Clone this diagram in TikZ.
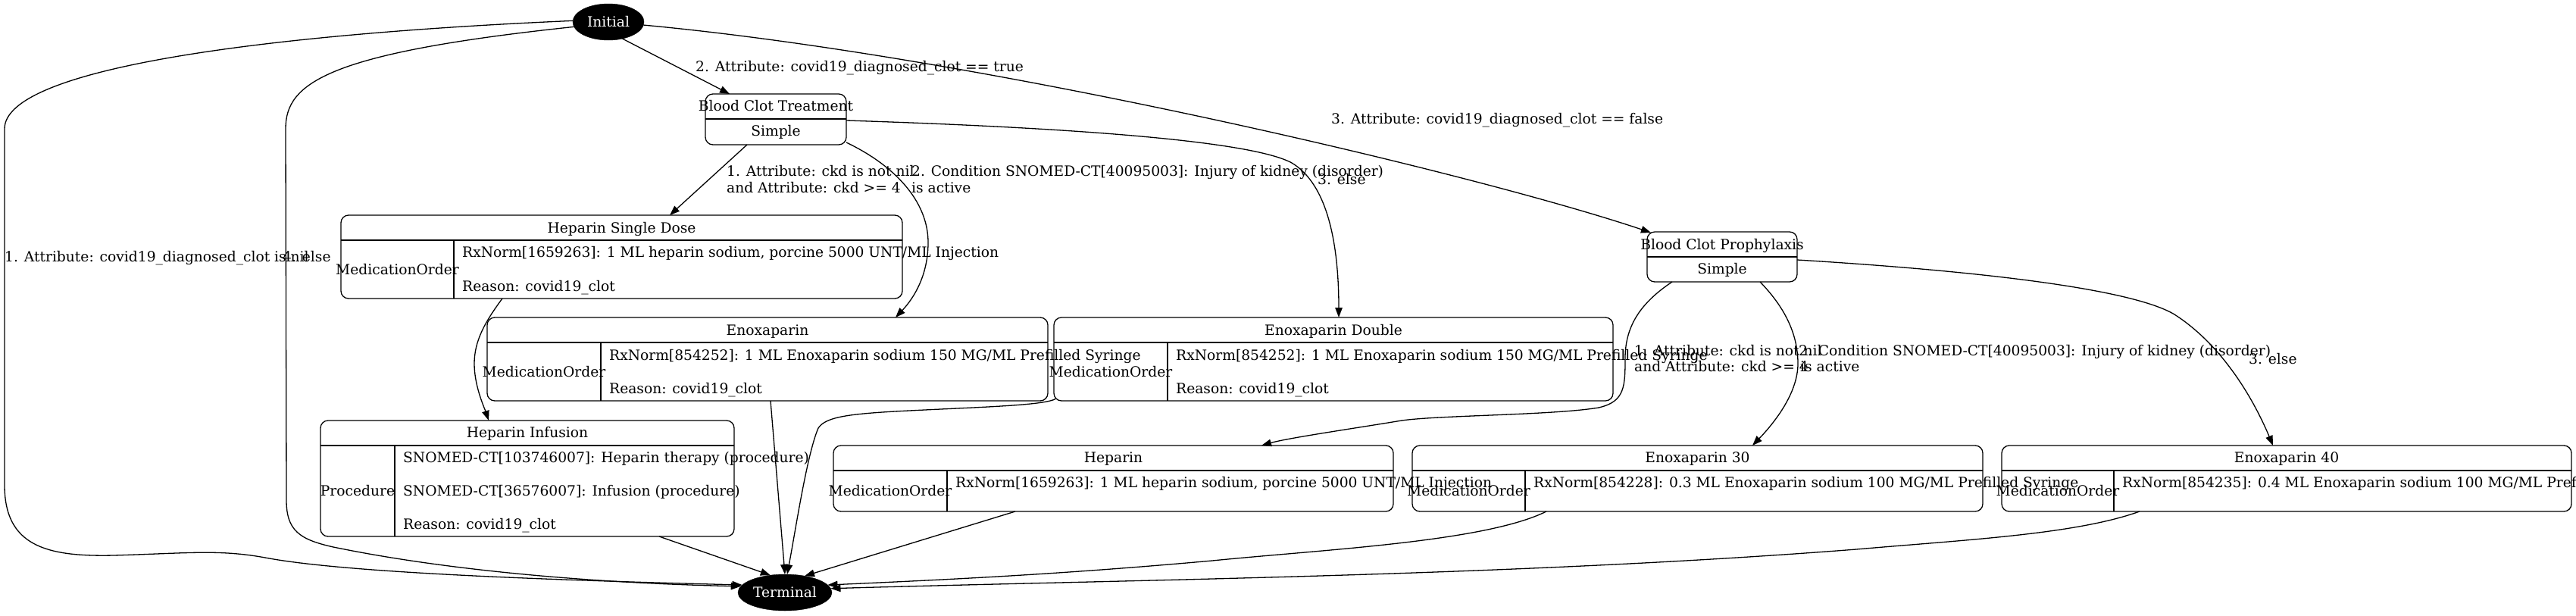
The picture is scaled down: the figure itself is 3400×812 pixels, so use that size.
\documentclass[tikz,border=0pt]{standalone}
\usepackage{fontspec}
\setmainfont{DejaVu Serif}
\usetikzlibrary{arrows.meta,shapes.geometric,calc}
\begin{document}
\begin{tikzpicture}[x=1pt,y=-1pt,
  every node/.style={font=\fontsize{18.67}{22}\selectfont},
  box/.style={draw, line width=1.3pt, rounded corners=10pt, inner sep=0pt, outer sep=0pt},
  div/.style={line width=1.3pt},
  tx/.style={inner sep=0pt, anchor=base},
  txl/.style={inner sep=0pt, anchor=base west},
  term/.style={ellipse, fill=black, draw=black, text=white, inner sep=0pt, outer sep=0pt},
  edge/.style={line width=1.3pt, -{Triangle[length=13pt,width=9.5pt]}}
]
\useasboundingbox (0,0) rectangle (3400,812);

% start / end states
\node[term, minimum width=94pt, minimum height=48pt] (init) at (803,29) {Initial};
\node[term, minimum width=124pt, minimum height=48pt] (term) at (1036,782) {Terminal};

% Blood Clot Treatment
\node[box, minimum width=186pt, minimum height=67pt] (bct) at (1024,157.5) {};
\draw[div] (931,157) -- (1117,157);
\node[tx] (bctT) at (1024,146) {Blood Clot Treatment};
\node[tx] (bctS) at (1024,179) {Simple};

% Blood Clot Prophylaxis
\node[box, minimum width=198pt, minimum height=66pt] (bcp) at (2273,339) {};
\draw[div] (2174,339) -- (2372,339);
\node[tx] (bcpT) at (2273,329) {Blood Clot Prophylaxis};
\node[tx] (bcpS) at (2273,361) {Simple};

% Heparin Single Dose
\node[box, minimum width=741pt, minimum height=110pt] (hsd) at (820.5,339) {};
\draw[div] (450,317) -- (1191,317);
\draw[div] (599,317) -- (599,394);
\node[tx] (hsdT) at (820.5,307) {Heparin Single Dose};
\node[tx] (hsdM) at (524.5,362) {MedicationOrder};
\node[txl] (hsdR) at (610,339) {RxNorm[1659263]: 1 ML heparin sodium, porcine 5000 UNT/ML Injection};
\node[txl] (hsdC) at (610,384) {Reason: covid19\_clot};

% Enoxaparin
\node[box, minimum width=740pt, minimum height=110pt] (enox) at (1013,474) {};
\draw[div] (643,452) -- (1383,452);
\draw[div] (793,452) -- (793,529);
\node[tx] (enoxT) at (1013,442) {Enoxaparin};
\node[tx] (enoxM) at (718,497) {MedicationOrder};
\node[txl] (enoxR) at (804,475) {RxNorm[854252]: 1 ML Enoxaparin sodium 150 MG/ML Prefilled Syringe};
\node[txl] (enoxC) at (804,519) {Reason: covid19\_clot};

% Enoxaparin Double
\node[box, minimum width=738pt, minimum height=110pt] (enoxd) at (1760,474) {};
\draw[div] (1391,452) -- (2129,452);
\draw[div] (1541,452) -- (1541,529);
\node[tx] (enoxdT) at (1760,442) {Enoxaparin Double};
\node[tx] (enoxdM) at (1466,497) {MedicationOrder};
\node[txl] (enoxdR) at (1552,475) {RxNorm[854252]: 1 ML Enoxaparin sodium 150 MG/ML Prefilled Syringe};
\node[txl] (enoxdC) at (1552,519) {Reason: covid19\_clot};

% Heparin Infusion
\node[box, minimum width=546pt, minimum height=153pt] (hinf) at (696,631.5) {};
\draw[div] (423,588) -- (969,588);
\draw[div] (521,588) -- (521,708);
\node[tx] (hinfT) at (696,577) {Heparin Infusion};
\node[tx] (hinfP) at (472,654) {Procedure};
\node[txl] (hinfA) at (532,610) {SNOMED-CT[103746007]: Heparin therapy (procedure)};
\node[txl] (hinfB) at (532,654) {SNOMED-CT[36576007]: Infusion (procedure)};
\node[txl] (hinfC) at (532,698) {Reason: covid19\_clot};

% Heparin
\node[box, minimum width=739pt, minimum height=87pt] (hep) at (1469.5,631.5) {};
\draw[div] (1100,621) -- (1839,621);
\draw[div] (1250,621) -- (1250,675);
\node[tx] (hepT) at (1469.5,610) {Heparin};
\node[tx] (hepM) at (1175,654) {MedicationOrder};
\node[txl] (hepR) at (1261,643) {RxNorm[1659263]: 1 ML heparin sodium, porcine 5000 UNT/ML Injection};

% Enoxaparin 30
\node[box, minimum width=753pt, minimum height=87pt] (enox30) at (2240.5,631.5) {};
\draw[div] (1864,621) -- (2617,621);
\draw[div] (2013,621) -- (2013,675);
\node[tx] (e30T) at (2240.5,610) {Enoxaparin 30};
\node[tx] (e30M) at (1938.5,654) {MedicationOrder};
\node[txl] (e30R) at (2024,643) {RxNorm[854228]: 0.3 ML Enoxaparin sodium 100 MG/ML Prefilled Syringe};

% Enoxaparin 40
\node[box, minimum width=752pt, minimum height=87pt] (enox40) at (3018,631.5) {};
\draw[div] (2642,621) -- (3394,621);
\draw[div] (2790,621) -- (2790,675);
\node[tx] (e40T) at (3018,610) {Enoxaparin 40};
\node[tx] (e40M) at (2716,654) {MedicationOrder};
\node[txl] (e40R) at (2801,643) {RxNorm[854235]: 0.4 ML Enoxaparin sodium 100 MG/ML Prefilled Syringe};

% ---- edges from Initial
\draw[edge] (init.178) .. controls (350,45) and (6,90) .. (6,170) -- (6,640)
  .. controls (6,720) and (60,735) .. (150,733)
  .. controls (250,730) and (290,725) .. (350,736)
  .. controls (450,755) and (700,765) .. (term.170);
\draw[edge] (init.-172) .. controls (430,70) and (377,110) .. (377,170) -- (378,660)
  .. controls (378,700) and (395,712) .. (440,722)
  .. controls (600,755) and (800,770) .. (term.172);
\draw[edge] (init.-50) -- ($(bct.north west)+(32,0)$);
\draw[edge] (init.-5) .. controls (1300,75) and (1950,230) .. ($(bcp.north west)+(5,1)$);

\node[txl] (lab1) at (6,345) {1. Attribute: covid19\_diagnosed\_clot is nil};
\node[txl] (lab4) at (373,345) {4. else};
\node[txl] (lab2) at (918,94) {2. Attribute: covid19\_diagnosed\_clot == true};
\node[txl] (lab3) at (1757,163) {3. Attribute: covid19\_diagnosed\_clot == false};

% ---- edges from Blood Clot Treatment
\draw[edge] ($(bct.south west)+(55,0)$) -- ($(hsd.north west)+(434,0)$);
\draw[edge] ($(bct.south east)+(0,-3)$) .. controls (1180,218) and (1225,265) .. (1225,320)
  .. controls (1225,370) and (1200,400) .. ($(enox.north west)+(539,0)$);
\draw[edge] ($(bct.east)+(0,1.5)$) .. controls (1400,168) and (1650,185) .. (1705,215)
  .. controls (1755,245) and (1767,330) .. ($(enoxd.north)+(7,0)$);

\node[txl] (lab5a) at (959,232) {1. Attribute: ckd is not nil};
\node[txl] (lab5b) at (959,254) {and Attribute: ckd >= 4};
\node[txl] (lab6a) at (1203,232) {2. Condition SNOMED-CT[40095003]: Injury of kidney (disorder)};
\node[txl] (lab6b) at (1203,254) {is active};
\node[txl] (lab7) at (1739,243) {3. else};

% ---- edges from Blood Clot Prophylaxis
\draw[edge] ($(bcp.south west)+(33,0)$) .. controls (2165,400) and (2146,430) .. (2145,470)
  .. controls (2145,510) and (2145,530) .. (2110,538)
  .. controls (2050,548) and (1900,548) .. (1850,555)
  .. controls (1790,565) and (1700,578) .. ($(hep.north west)+(565,0)$);
\draw[edge] ($(bcp.south west)+(149,0)$) .. controls (2355,405) and (2373,440) .. (2373,480)
  .. controls (2373,520) and (2340,560) .. ($(enox30.north west)+(449,0)$);
\draw[edge] ($(bcp.east)+(0,4)$) .. controls (2650,360) and (2820,385) .. (2870,415)
  .. controls (2940,460) and (2980,540) .. ($(enox40.north west)+(358,0)$);

\node[txl] (lab12a) at (2157,469) {1. Attribute: ckd is not nil};
\node[txl] (lab12b) at (2157,490) {and Attribute: ckd >= 4};
\node[txl] (lab13a) at (2374,469) {2. Condition SNOMED-CT[40095003]: Injury of kidney (disorder)};
\node[txl] (lab13b) at (2376,490) {is active};
\node[txl] (lab14) at (2968,480) {3. else};

% ---- other edges
\draw[edge] ($(hsd.south west)+(213,0)$) .. controls (640,425) and (626,450) .. (626,480)
  .. controls (626,510) and (640,540) .. ($(hinf.north west)+(222,0)$);
\draw[edge] ($(hinf.south west)+(447,0)$) -- (term.130);
\draw[edge] ($(enox.south west)+(374,0)$) -- (term.north);
\draw[edge] ($(enoxd.south west)+(3,-3)$) .. controls (1380,535) and (1300,537) .. (1200,542)
  .. controls (1120,546) and (1090,550) .. (1080,565)
  .. controls (1065,600) and (1050,700) .. (term.83);
\draw[edge] ($(hep.south west)+(240,0)$) -- (term.40);
\draw[edge] ($(enox30.south west)+(177,0)$) .. controls (1960,715) and (1750,725) .. (1600,740)
  .. controls (1400,758) and (1250,765) .. (term.10);
\draw[edge] ($(enox40.south west)+(182,0)$) .. controls (2740,705) and (2600,712) .. (2450,725)
  .. controls (2000,760) and (1500,765) .. (term.5);
\end{tikzpicture}
\end{document}
